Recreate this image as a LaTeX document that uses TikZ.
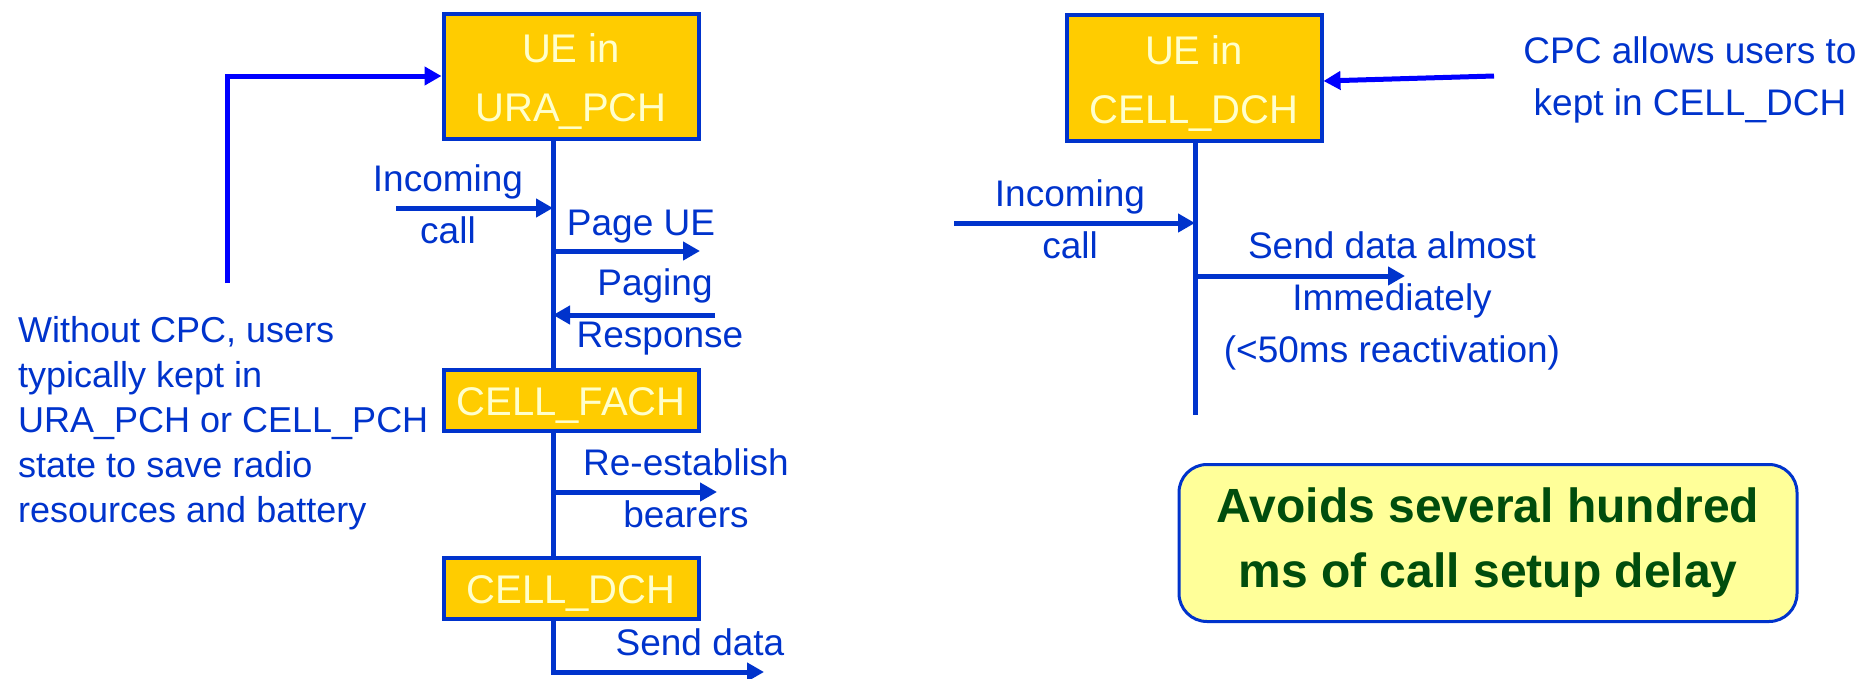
\documentclass[tikz,border=0pt]{standalone}
\usepackage{fontspec}
\setmainfont{Liberation Sans}
\usetikzlibrary{arrows.meta}
\definecolor{lb}{HTML}{0033CC}
\definecolor{pb}{HTML}{0000FF}
\definecolor{gold}{HTML}{FFCC00}
\definecolor{cream}{HTML}{FFFFCC}
\definecolor{pale}{HTML}{FFFF99}
\definecolor{dg}{HTML}{004D0D}
\begin{document}
\begin{tikzpicture}[x=1pt,y=-1pt,
  statebox/.style={draw=lb, line width=4pt, fill=gold, text=cream,
    font=\fontsize{40}{59}\selectfont, align=center, inner sep=0pt,
    minimum width=255pt, text depth=0pt},
  twoline/.style={statebox, text height=90pt},
  oneline/.style={statebox, text height=31pt, minimum height=61pt},
  lbl/.style={text=lb, font=\fontsize{37}{52}\selectfont, align=center, inner sep=0pt},
  conn/.style={draw=lb, line width=5pt},
  arr/.style={conn, -{Triangle[length=17pt,width=18pt]}},
  parr/.style={draw=pb, line width=5pt, -{Triangle[length=17pt,width=18pt]}},
  note/.style={draw=lb, line width=3pt, fill=pale, rounded corners=28pt,
    text=dg, font=\fontsize{48}{65}\bfseries\selectfont, align=center,
    minimum width=618pt, minimum height=157pt, inner sep=0pt},
]
\useasboundingbox (0,0) rectangle (1866,678);

% ---------- left column ----------
\node[twoline, minimum height=125pt] (ura) at (571,76) {UE in\\URA\_PCH};
\node[oneline] (fach) at (571,400) {CELL\_FACH};
\node[oneline] (dchl) at (571,588) {CELL\_DCH};

\coordinate (lx) at (553,0);
\draw[conn] (ura.south -| lx) -- (fach.north -| lx);
\draw[conn] (fach.south -| lx) -- (dchl.north -| lx);

\coordinate (ic0) at (396,208);
\draw[arr] (ic0) -- (ic0 -| lx);
\node[lbl, anchor=base] (inc1) at (448,243) {Incoming\\call};

\coordinate (pu1) at (700,251);
\draw[arr] (pu1 -| lx) -- (pu1);
\node[lbl, anchor=base] (pue) at (641,235) {Page UE};

\coordinate (pr0) at (715,315);
\draw[arr] (pr0) -- (pr0 -| lx);
\node[lbl, anchor=base] (prs) at (660,347) {\hspace*{-10pt}Paging\\Response};

\coordinate (re1) at (717,492);
\draw[arr] (re1 -| lx) -- (re1);
\node[lbl, anchor=base] (reb) at (686,527) {Re-establish\\bearers};

\coordinate (sd1) at (764,672);
\draw[arr] (dchl.south -| lx) |- (sd1);
\node[lbl, anchor=base] (sdt) at (700,655) {Send data};

\coordinate (e0) at (227,283);
\draw[parr] (e0) |- (ura.west);
\node[lbl, align=left, anchor=base west, font=\fontsize{36}{45}\selectfont] (wo) at (18,522)
  {Without CPC, users\\typically kept in\\URA\_PCH or CELL\_PCH\\state to save radio\\resources and battery};

% ---------- right column ----------
\node[twoline, minimum height=126pt] (rdch) at (1194,78) {UE in\\CELL\_DCH};
\coordinate (rx) at (1195,415);
\draw[conn] (rdch.south -| rx) -- (rx);

\coordinate (ic2) at (954,223);
\draw[arr] (ic2) -- (ic2 -| rx);
\node[lbl, anchor=base] (inc2) at (1070,258) {Incoming\\call};

\coordinate (sa1) at (1405,276);
\draw[arr] (sa1 -| rx) -- (sa1);
\node[lbl, anchor=base] (sat) at (1392,362) {Send data almost\\Immediately\\(<50ms reactivation)};

\coordinate (c0) at (1494,76);
\draw[parr] (c0) -- ([yshift=-3pt]rdch.east);
\node[lbl, anchor=base] (cpc) at (1690,115) {CPC allows users to\\kept in CELL\_DCH};

\node[note] (avoid) at (1488,543) {Avoids several hundred\\ms of call setup delay};
\end{tikzpicture}
\end{document}
